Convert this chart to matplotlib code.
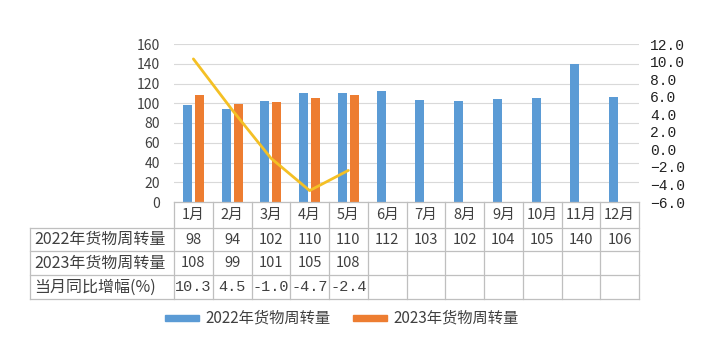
import numpy as np
import matplotlib
matplotlib.use("Agg")
import matplotlib.pyplot as plt
from matplotlib.patches import Rectangle

plt.rcParams["font.family"] = ["Noto Sans CJK SC", "DejaVu Sans"]

# ── 数据 ────────────────────────────────────────────────────────────────
months = ["1月", "2月", "3月", "4月", "5月", "6月",
          "7月", "8月", "9月", "10月", "11月", "12月"]
vol_2022 = [98, 94, 102, 110, 110, 112, 103, 102, 104, 105, 140, 106]
vol_2023 = [108, 99, 101, 105, 108]
yoy_pct = [10.3, 4.5, -1.0, -4.7, -2.4]
row_names = ["2022年货物周转量", "2023年货物周转量", "当月同比增幅(%)"]

BLUE = "#5B9BD5"
ORANGE = "#ED7D31"
GOLD = "#F4C025"
GRID = "#D9D9D9"
TXT = "#404040"
TABLE_LINE = "#BFBFBF"

W, H = 715, 348
fig = plt.figure(figsize=(W / 100, H / 100), dpi=100)

# 绘图区（像素）
PX_L, PX_R, PX_T, PX_B = 174, 639, 44, 202
ax = fig.add_axes([PX_L / W, 1 - PX_B / H, (PX_R - PX_L) / W, (PX_B - PX_T) / H])
ax2 = ax.twinx()

x = np.arange(len(months))
bw, off = 0.23, 0.155
ax.bar(x - off, vol_2022, width=bw, color=BLUE, zorder=3)
ax.bar(x[:len(vol_2023)] + off, vol_2023, width=bw, color=ORANGE, zorder=3)

ax.set_xlim(-0.5, len(months) - 0.5)
ax.set_ylim(0, 160)
ax.set_yticks(range(0, 161, 20))
ax.grid(axis="y", color=GRID, linewidth=0.8, zorder=0)
ax.set_xticks([])
for s in ax.spines.values():
    s.set_visible(False)
ax.tick_params(axis="y", length=0, labelsize=10, labelcolor=TXT, pad=10)

ax2.plot(x[:len(yoy_pct)], yoy_pct, color=GOLD, linewidth=2.0,
         solid_capstyle="round", zorder=5)
ax2.set_ylim(-6, 12)
ax2.set_yticks(np.arange(-6, 12.1, 2))
ax2.set_yticklabels([f"{v:.1f}".replace("-", "\u2212") for v in np.arange(-6, 12.1, 2)],
                    family=["Liberation Mono", "DejaVu Sans"])
for s in ax2.spines.values():
    s.set_visible(False)
ax2.tick_params(axis="y", length=0, labelsize=10.5, labelcolor="#222222", pad=8)

# ── 数据表 ──────────────────────────────────────────────────────────────
tab = fig.add_axes([0, 0, 1, 1])
tab.set_xlim(0, W)
tab.set_ylim(H, 0)
tab.axis("off")

TBL_L = 30
row_y = [202, 228, 251, 275, 299]
col_w = (PX_R - PX_L) / len(months)
col_x = [PX_L + i * col_w for i in range(len(months) + 1)]

lw = 0.9
# 横线
tab.plot([PX_L, PX_R], [row_y[0], row_y[0]], color=TABLE_LINE, lw=lw)
for yy in row_y[1:]:
    tab.plot([TBL_L, PX_R], [yy, yy], color=TABLE_LINE, lw=lw)
# 竖线
for xx in col_x:
    tab.plot([xx, xx], [row_y[0], row_y[-1]], color=TABLE_LINE, lw=lw)
tab.plot([TBL_L, TBL_L], [row_y[1], row_y[-1]], color=TABLE_LINE, lw=lw)

fs = 10.5
for i, m in enumerate(months):
    cx = (col_x[i] + col_x[i + 1]) / 2
    tab.text(cx, (row_y[0] + row_y[1]) / 2, m, ha="center", va="center",
             fontsize=fs, color=TXT)

for r, name in enumerate(row_names):
    tab.text(TBL_L + 4, (row_y[r + 1] + row_y[r + 2]) / 2, name,
             ha="left", va="center", fontsize=11.5, color=TXT)

rows = [vol_2022, vol_2023, yoy_pct]
for r, vals in enumerate(rows):
    cy = (row_y[r + 1] + row_y[r + 2]) / 2
    for i, v in enumerate(vals):
        cx = (col_x[i] + col_x[i + 1]) / 2
        if r == 2:
            tab.text(cx, cy, f"{v:.1f}", ha="center", va="center",
                     fontsize=fs + 0.5, color=TXT,
                     family=["Liberation Mono", "DejaVu Sans"])
        else:
            tab.text(cx, cy, str(v), ha="center", va="center",
                     fontsize=fs, color=TXT)

# ── 图例 ────────────────────────────────────────────────────────────────
leg_y = 318
for px0, color, label in [(165, BLUE, "2022年货物周转量"),
                          (353, ORANGE, "2023年货物周转量")]:
    tab.add_patch(Rectangle((px0, leg_y - 3), 34, 6, color=color))
    tab.text(px0 + 40, leg_y, label, ha="left", va="center",
             fontsize=11, color=TXT)

fig.savefig("out.png", dpi=100)
